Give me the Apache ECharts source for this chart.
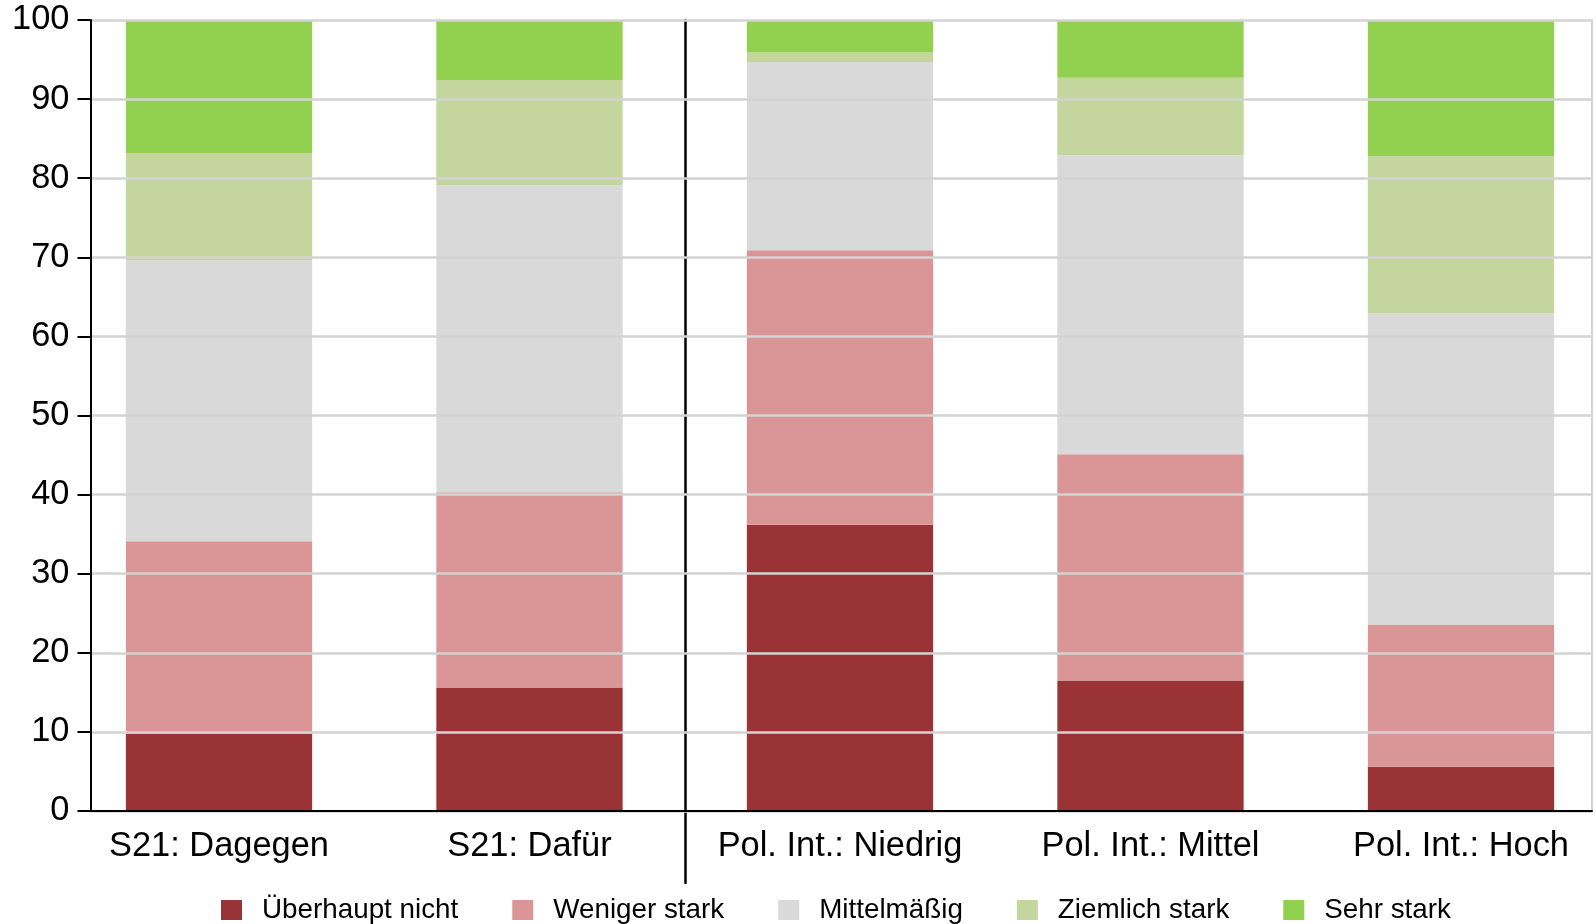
<!DOCTYPE html>
<html>
<head>
<meta charset="utf-8">
<script src="https://cdn.jsdelivr.net/npm/echarts@6/dist/echarts.min.js"></script>
<style>
html,body{margin:0;padding:0;background:#fff;}
#chart{width:1595px;height:924px;}
</style>
</head>
<body>
<div id="chart"></div>
<script>
// ---- Data ----
const categories = ['S21: Dagegen', 'S21: Dafür', 'Pol. Int.: Niedrig', 'Pol. Int.: Mittel', 'Pol. Int.: Hoch'];
const seriesNames = ['Überhaupt nicht', 'Weniger stark', 'Mittelmäßig', 'Ziemlich stark', 'Sehr stark'];
const ueberhauptNicht = [9.8, 15.6, 36.2, 16.5, 5.6];
const wenigerStark = [24.3, 24.7, 34.7, 28.6, 17.9];
const mittelmaessig = [35.5, 38.8, 23.8, 37.8, 39.4];
const ziemlichStark = [13.6, 13.3, 1.2, 9.8, 19.9];
const sehrStark = [16.8, 7.6, 4.1, 7.3, 17.2];
const yTicks = [0, 10, 20, 30, 40, 50, 60, 70, 80, 90, 100];
const separatorIndex = 2; // group boundary before this category

const colors = ['#993335', '#da9696', '#d9d9d9', '#c4d69d', '#92d050'];
const FONT = '"Liberation Sans", Arial, Helvetica, sans-serif';
const seriesData = [ueberhauptNicht, wenigerStark, mittelmaessig, ziemlichStark, sehrStark];

// layout
const barGridLeft = 63.75, barGridWidth = 1552.5;
const sepX = barGridLeft + separatorIndex * barGridWidth / categories.length;

const chart = echarts.init(document.getElementById('chart'), null, {renderer: 'canvas'});

const option = {
  animation: false,
  backgroundColor: '#ffffff',
  textStyle: {fontFamily: FONT},
  legend: {
    data: seriesNames,
    left: 221,
    top: 896,
    padding: 0,
    icon: 'rect',
    itemWidth: 21,
    itemHeight: 20,
    itemGap: 54,
    textStyle: {fontFamily: FONT, fontSize: 27.8, color: '#000', padding: [0, 0, 0, 15]}
  },
  grid: [
    {left: 90.5, right: 3, top: 20, bottom: 113, containLabel: false, outerBoundsMode: 'none'},
    {left: barGridLeft, width: barGridWidth, top: 20, bottom: 113, containLabel: false, outerBoundsMode: 'none'},
    {left: sepX, width: 10, top: 20, bottom: 41, containLabel: false, outerBoundsMode: 'none'}
  ],
  xAxis: [
    {
      type: 'value', gridIndex: 0, min: 0, max: 1, z: 10,
      axisLine: {show: true, lineStyle: {color: '#000', width: 2}},
      axisTick: {show: false}, axisLabel: {show: false}, splitLine: {show: false}
    },
    {
      type: 'category', gridIndex: 1, data: categories, boundaryGap: true,
      axisLine: {show: false},
      axisTick: {show: false},
      splitLine: {show: false},
      axisLabel: {
        interval: 0, margin: 18.5, fontFamily: FONT, fontSize: 34.4, color: '#000'
      }
    },
    {
      type: 'value', gridIndex: 2, min: 0, max: 1, show: false
    }
  ],
  yAxis: [
    {
      type: 'value', gridIndex: 0, min: yTicks[0], max: yTicks[yTicks.length - 1], interval: 10, z: 10,
      axisLine: {show: true, lineStyle: {color: '#000', width: 2}},
      axisTick: {show: true, length: 13, inside: false, lineStyle: {color: '#000', width: 2}},
      axisLabel: {margin: 21, fontFamily: FONT, fontSize: 34.4, color: '#000'},
      splitLine: {show: true, lineStyle: {color: '#d3d3d3', width: 2.5}}
    },
    {
      type: 'value', gridIndex: 0, position: 'right', min: 0, max: 100,
      axisLine: {show: true, lineStyle: {color: '#d3d3d3', width: 2}},
      axisTick: {show: false}, axisLabel: {show: false}, splitLine: {show: false}
    },
    {
      type: 'value', gridIndex: 1, min: 0, max: 100, show: false,
      splitLine: {show: false}
    },
    {
      type: 'value', gridIndex: 2, position: 'left', min: 0, max: 1,
      axisLine: {show: true, lineStyle: {color: '#000', width: 2.5}},
      axisTick: {show: false}, axisLabel: {show: false}, splitLine: {show: false}
    }
  ],
  series: seriesNames.map(function (name, i) {
    return {
      name: name,
      type: 'bar',
      stack: 'total',
      xAxisIndex: 1,
      yAxisIndex: 2,
      barWidth: '60%',
      itemStyle: {color: colors[i]},
      data: seriesData[i]
    };
  })
};

chart.setOption(option);
</script>
</body>
</html>
